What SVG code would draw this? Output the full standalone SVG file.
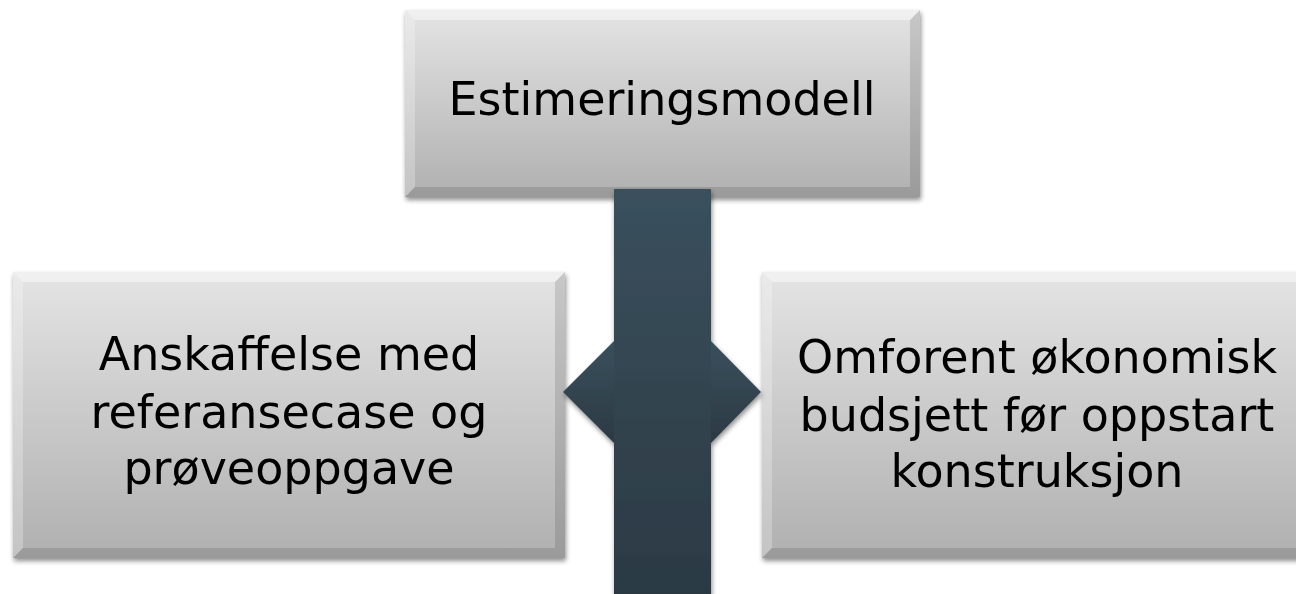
<svg xmlns="http://www.w3.org/2000/svg" width="1296" height="594" viewBox="0 0 1296 594">
<defs>
  <linearGradient id="boxGrad" x1="0" y1="0" x2="0" y2="1">
    <stop offset="0" stop-color="#e4e4e4"/>
    <stop offset="1" stop-color="#b0b0b0"/>
  </linearGradient>
  <linearGradient id="barGrad" x1="0" y1="0" x2="0" y2="1">
    <stop offset="0" stop-color="#3a505d"/>
    <stop offset="1" stop-color="#2b3943"/>
  </linearGradient>
  <filter id="shadow" x="-5%" y="-5%" width="110%" height="115%">
    <feGaussianBlur in="SourceAlpha" stdDeviation="2.5"/>
    <feOffset dx="1" dy="3" result="b"/>
    <feComponentTransfer><feFuncA type="linear" slope="0.45"/></feComponentTransfer>
    <feMerge><feMergeNode/><feMergeNode in="SourceGraphic"/></feMerge>
  </filter>
</defs>
<style>
  .box { fill: url(#boxGrad); }
  .bevT { fill: #ffffff; fill-opacity: 0.45; }
  .bevL { fill: #ffffff; fill-opacity: 0.25; }
  .bevR { fill: #000000; fill-opacity: 0.12; }
  .bevB { fill: #000000; fill-opacity: 0.12; }
  .lbl { font-family: "DejaVu Sans", "Liberation Sans", sans-serif; font-size: 46px; fill: #000; text-anchor: middle; }
  .bar { fill: url(#barGrad); }
</style>

<g id="node-estimeringsmodell" filter="url(#shadow)">
  <rect class="box" x="405" y="10" width="515" height="187"/>
  <polygon class="bevT" points="405,10 920,10 910,20 415,20"/>
  <polygon class="bevL" points="405,10 415,20 415,187 405,197"/>
  <polygon class="bevR" points="920,10 920,197 910,187 910,20"/>
  <polygon class="bevB" points="405,197 415,187 910,187 920,197"/>
  <text class="lbl" x="662" y="115">Estimeringsmodell</text>
</g>

<g id="node-anskaffelse" filter="url(#shadow)">
  <rect class="box" x="13" y="272" width="552" height="286"/>
  <polygon class="bevT" points="13,272 565,272 555,282 23,282"/>
  <polygon class="bevL" points="13,272 23,282 23,548 13,558"/>
  <polygon class="bevR" points="565,272 565,558 555,548 555,282"/>
  <polygon class="bevB" points="13,558 23,548 555,548 565,558"/>
  <text class="lbl" x="289" y="370">Anskaffelse med</text>
  <text class="lbl" x="289" y="428">referansecase og</text>
  <text class="lbl" x="289" y="484">prøveoppgave</text>
</g>

<g id="node-omforent" filter="url(#shadow)">
  <rect class="box" x="762" y="272" width="552" height="286"/>
  <polygon class="bevT" points="762,272 1314,272 1304,282 772,282"/>
  <polygon class="bevL" points="762,272 772,282 772,548 762,558"/>
  <polygon class="bevB" points="762,558 772,548 1304,548 1314,558"/>
  <text class="lbl" x="1037" y="373">Omforent økonomisk</text>
  <text class="lbl" x="1037" y="431">budsjett før oppstart</text>
  <text class="lbl" x="1037" y="487">konstruksjon</text>
</g>

<g id="connectors" filter="url(#shadow)">
  <polygon class="bar" points="563,392 614,341 711,341 761,392 711,443 614,443"/>
  <rect class="bar" x="614" y="189" width="97" height="410"/>
</g>
</svg>
